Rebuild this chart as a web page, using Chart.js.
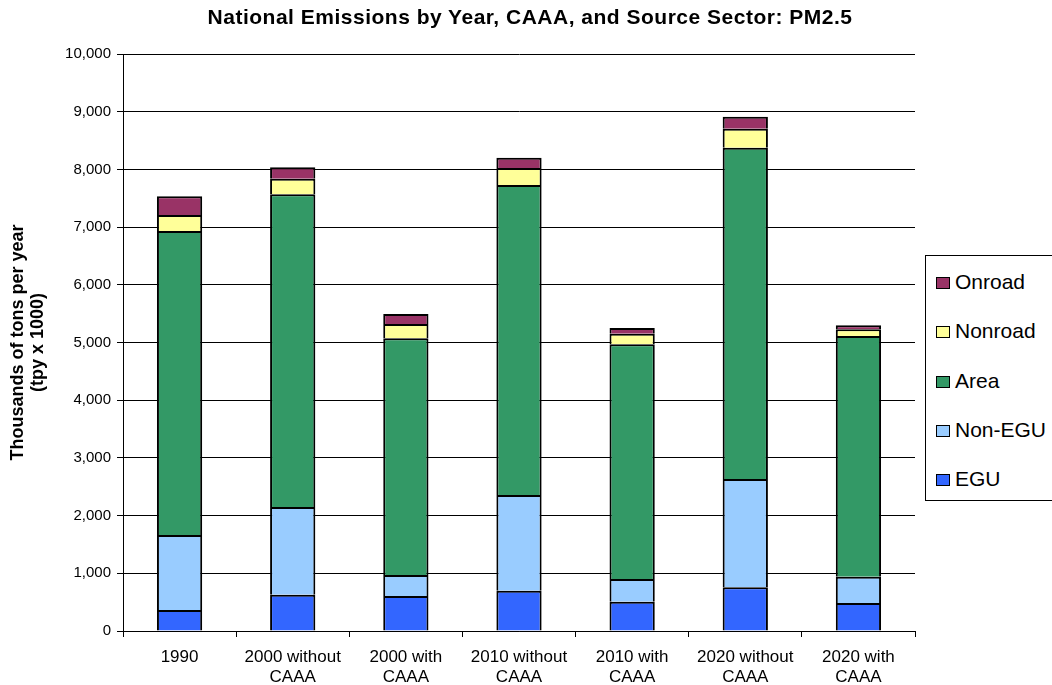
<!DOCTYPE html>
<html>
<head>
<meta charset="utf-8">
<script src="https://cdn.jsdelivr.net/npm/chart.js@4.4.0/dist/chart.umd.min.js"></script>
<style>
  body { margin: 0; background: #fff; font-family: "Liberation Sans", Arial, sans-serif; }
  #wrap { position: relative; width: 1052px; height: 685px; overflow: hidden; }
  #title { position: absolute; left: 0; top: 5px; width: 1060px; text-align: center; font-weight: bold; font-size: 21px; letter-spacing: 0.5px; color: #000; }
  #legend { position: absolute; left: 925px; top: 255px; width: 140px; height: 246px; border: 1px solid #000; box-sizing: border-box; background: #fff; }
  .item { position: absolute; left: 10px; height: 24px; line-height: 24px; font-size: 21px; color: #000; white-space: nowrap; }
  .sw { display: inline-block; width: 14px; height: 12px; border: 1px solid #000; box-sizing: border-box; margin-right: 5px; vertical-align: 0px; }
</style>
</head>
<body>
<div id="wrap">
  <canvas id="chart" width="1052" height="685"></canvas>
  <div id="title">National Emissions by Year, CAAA, and Source Sector: PM2.5</div>
  <div id="legend"></div>
</div>
<script>
// Data (thousands of tons)
const categories = [['1990'], ['2000 without', 'CAAA'], ['2000 with', 'CAAA'], ['2010 without', 'CAAA'], ['2010 with', 'CAAA'], ['2020 without', 'CAAA'], ['2020 with', 'CAAA']];
const egu     = [364, 629, 607, 698, 508, 757, 485];
const nonEgu  = [1300, 1520, 364, 1659, 393, 1877, 456];
const area    = [5268, 5419, 4102, 5373, 4068, 5742, 4172];
const nonroad = [278, 271, 248, 294, 184, 329, 116];
const onroad  = [324, 197, 173, 179, 98, 208, 69];

const series = [
  { label: 'EGU', data: egu, color: '#3366FF' },
  { label: 'Non-EGU', data: nonEgu, color: '#99CCFF' },
  { label: 'Area', data: area, color: '#339966' },
  { label: 'Nonroad', data: nonroad, color: '#FFFF99' },
  { label: 'Onroad', data: onroad, color: '#993366' }
];

function fmt(v){ return String(v).replace(/\B(?=(\d{3})+(?!\d))/g, ','); }

Chart.defaults.font.family = '"Liberation Sans", Arial, sans-serif';
Chart.defaults.color = '#000';

new Chart(document.getElementById('chart').getContext('2d'), {
  type: 'bar',
  data: {
    labels: categories,
    datasets: series.map(s => ({
      label: s.label,
      data: s.data,
      backgroundColor: s.color,
      borderColor: '#000',
      borderWidth: 2,
      borderSkipped: 'bottom',
      inflateAmount: 0,
      barPercentage: 0.4,
      categoryPercentage: 1
    }))
  },
  options: {
    responsive: false,
    animation: false,
    layout: { padding: { top: 54, right: 137, bottom: 0, left: 0 } },
    plugins: { legend: { display: false }, title: { display: false }, tooltip: { enabled: false } },
    scales: {
      x: {
        stacked: true,
        grid: {
          offset: true,
          color: ctx => ctx.index === categories.length ? '#000' : 'rgba(0,0,0,0)',
          tickColor: '#000',
          tickLength: 6
        },
        border: { color: '#000' },
        ticks: { font: { size: 17, lineHeight: 1.18 }, color: '#000', padding: 10, maxRotation: 0, autoSkip: false },
        afterFit: s => { s.height = 54; }
      },
      y: {
        stacked: true,
        min: 0,
        max: 10000,
        ticks: { stepSize: 1000, font: { size: 15 }, color: '#000', padding: 6, callback: v => fmt(v) },
        grid: { color: '#000', tickColor: '#000', tickLength: 6 },
        border: { color: '#000' },
        title: {
          display: true,
          text: ['Thousands of tons per year', '(tpy x 1000)'],
          font: { size: 18, weight: 'bold', lineHeight: 1.12 },
          color: '#000',
          padding: { top: 8, bottom: 0 }
        },
        afterFit: s => { s.width = 123; }
      }
    }
  }
});

// Legend, top to bottom as in the reference
const legend = document.getElementById('legend');
const legendTops = [14, 63, 113, 162, 211];
series.slice().reverse().forEach((s, i) => {
  const d = document.createElement('div');
  d.className = 'item';
  d.style.top = legendTops[i] + 'px';
  d.innerHTML = `<span class="sw" style="background:${s.color}"></span>${s.label}`;
  legend.appendChild(d);
});
</script>
</body>
</html>
